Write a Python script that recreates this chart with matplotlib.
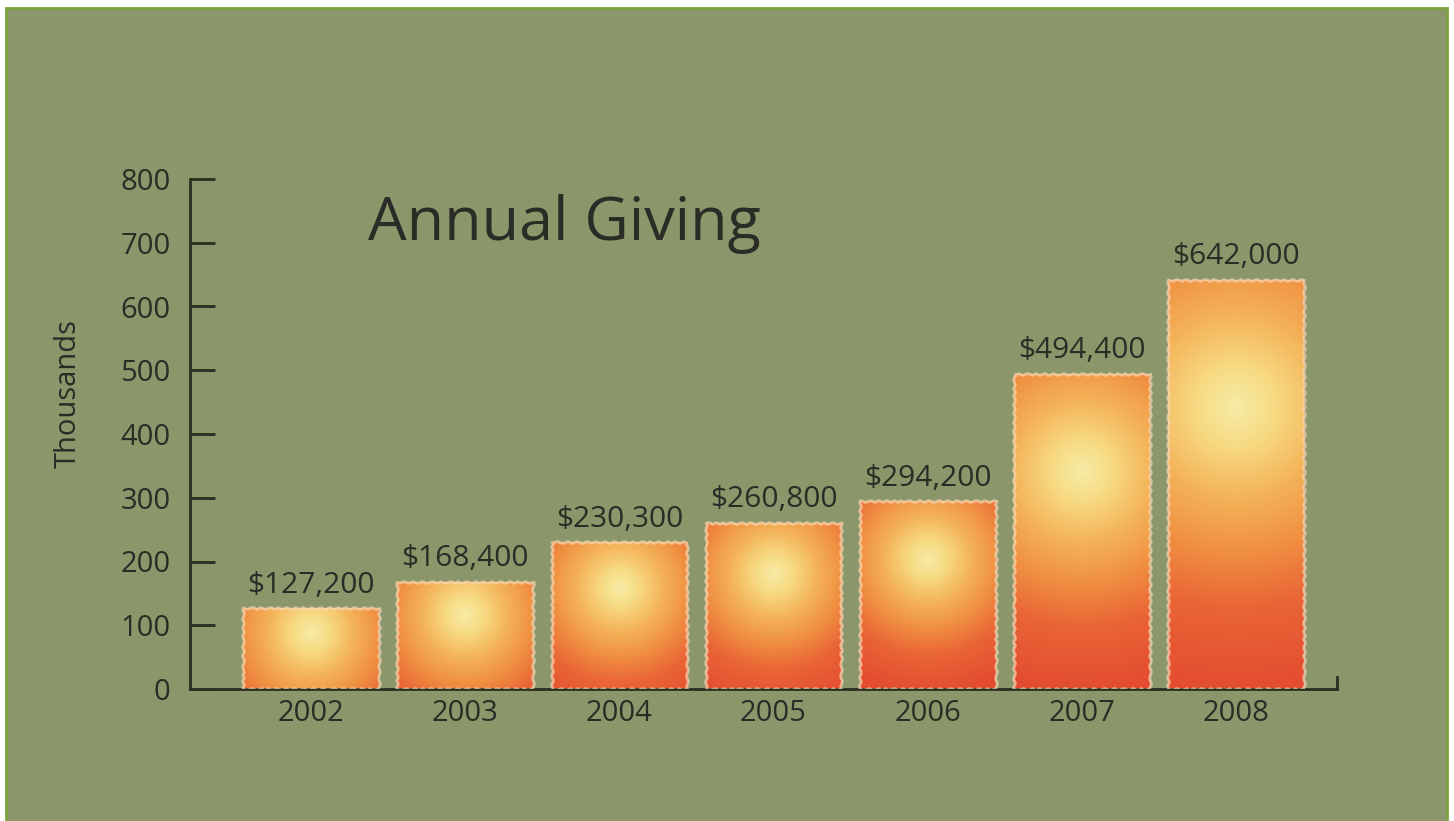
import numpy as np
import matplotlib.pyplot as plt
from matplotlib.colors import LinearSegmentedColormap
from matplotlib.patches import Rectangle

# data (thousands of dollars)
years = ['2002', '2003', '2004', '2005', '2006', '2007', '2008']
gifts = [127.2, 168.4, 230.3, 260.8, 294.2, 494.4, 642.0]
gift_labels = ['$127,200', '$168,400', '$230,300', '$260,800',
               '$294,200', '$494,400', '$642,000']
yticks = [0, 100, 200, 300, 400, 500, 600, 700, 800]

plt.rcParams['font.family'] = ['Open Sans', 'DejaVu Sans']

bg = '#8b976a'
ink = '#2a2c26'
axis_col = '#283020'

fig = plt.figure(figsize=(14.54, 8.21), dpi=100, facecolor='white')
# green panel with light frame
fig.patches.append(Rectangle((6/1454, -0.02), (1447-6)/1454, 1.02 - 8/821,
                             transform=fig.transFigure, facecolor=bg,
                             edgecolor='#7ba23b', linewidth=2, zorder=-1))

ax = fig.add_axes([190/1454, 1-689/821, (1337-190)/1454, (689-179)/821])
ax.set_facecolor('none')
x = np.arange(len(years))
xlim = (-0.785, 6.655)
ax.set_xlim(xlim)
ax.set_ylim(0, 800)

bars = ax.bar(x, gifts, width=0.88, color='none', edgecolor='none')

# radial glow, pale yellow in the middle to red at the bottom
cmap = LinearSegmentedColormap.from_list('glow', [
    (0.0, '#f6eca6'),
    (0.14, '#f7da82'),
    (0.32, '#f4b358'),
    (0.5, '#f09142'),
    (0.7, '#ea6636'),
    (1.0, '#e34c30')])

for b in bars:
    x0, w, h = b.get_x(), b.get_width(), b.get_height()
    p0 = ax.transData.transform((x0, 0))
    p1 = ax.transData.transform((x0 + w, h))
    w_px, h_px = p1[0] - p0[0], p1[1] - p0[1]
    xx, yy = np.meshgrid(np.linspace(-w_px/2, w_px/2, 100),
                         np.linspace(0, h_px, 300))
    cy = 0.69 * h_px
    s = max(w_px/2, 0.35*h_px)
    d = np.sqrt(xx**2 + (yy - cy)**2) / s
    im = ax.imshow(d, cmap=cmap, vmin=0, vmax=2, origin='lower',
                   extent=(x0, x0 + w, 0, h), aspect='auto', zorder=2,
                   interpolation='bilinear')
    im.set_clip_path(b)
    edge = Rectangle((x0, 0), w, h, fill=False, edgecolor='#f8d8b6',
                     linewidth=2, alpha=0.7, zorder=3)
    edge.set_sketch_params(0.8, 10, 2)
    ax.add_patch(edge)

ax.set_xlim(xlim)
ax.set_ylim(0, 800)

for xi, g, lab in zip(x, gifts, gift_labels):
    ax.annotate(lab, (xi, g), xytext=(0, 6), textcoords='offset points',
                ha='center', va='bottom', fontsize=21.5, color=ink, zorder=4)

ax.set_xticks(x)
ax.set_xticklabels(years)
ax.set_yticks(yticks)
ax.tick_params(axis='x', length=0, pad=7, labelsize=21, labelcolor=ink)
ax.tick_params(axis='y', direction='in', length=18, width=2, pad=14,
               labelsize=21, color=axis_col, labelcolor=ink)

for side in ['left', 'bottom', 'right']:
    ax.spines[side].set_color(axis_col)
    ax.spines[side].set_linewidth(2)
ax.spines['top'].set_visible(False)
ax.spines['right'].set_bounds(0, 19)

fig.text(368/1454, 1-240/821, 'Annual Giving', fontsize=44, color=ink,
         ha='left', va='baseline')
fig.text(68/1454, 1-394/821, 'Thousands', rotation=90, fontsize=21,
         color=ink, ha='center', va='center')

fig.savefig('out.png', dpi=100, facecolor=fig.get_facecolor())
